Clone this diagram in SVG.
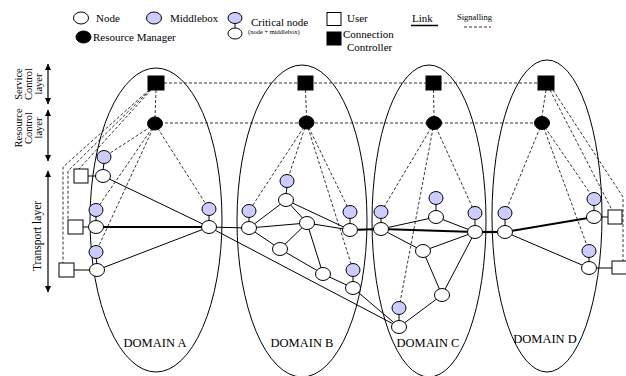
<svg xmlns="http://www.w3.org/2000/svg" width="626" height="376" viewBox="0 0 626 376" font-family="Liberation Serif, Times New Roman, serif">
<style>
  text { font-family: 'Liberation Serif', 'Times New Roman', Times, serif; fill: #000; }
  .dom { fill: none; stroke: #000; stroke-width: 1; }
  .lk { stroke: #000; stroke-width: 1; fill: none; }
  .th { stroke: #000; stroke-width: 2.2; fill: none; }
  .sg { stroke: #000; stroke-width: 0.8; stroke-dasharray: 3 2; fill: none; }
  .nd { fill: #fff; stroke: #000; stroke-width: 1; }
  .mb { fill: #ccccff; stroke: #000; stroke-width: 1; }
  .rm { fill: #000; stroke: #000; stroke-width: 1; }
  .cc { fill: #000; stroke: #000; stroke-width: 1; }
  .us { fill: #fff; stroke: #000; stroke-width: 1; }
  .ar { stroke: #000; stroke-width: 1.2; fill: none; }
</style>
<defs>
  <marker id="ah" markerUnits="userSpaceOnUse" markerWidth="7" markerHeight="7" refX="6" refY="3.5" orient="auto-start-reverse">
    <path d="M0,0.5 L6.5,3.5 L0,6.5 z" fill="#000"/>
  </marker>
</defs>
<rect x="0" y="0" width="626" height="376" fill="#fff"/>

<!-- Legend -->
<g id="legend">
  <ellipse class="nd" cx="81" cy="18" rx="7.5" ry="6"/>
  <text x="96" y="22" font-size="11">Node</text>
  <ellipse class="mb" cx="154" cy="18" rx="7.5" ry="6"/>
  <text x="170" y="22" font-size="11">Middlebox</text>
  <ellipse class="mb" cx="235" cy="18" rx="7" ry="5.5"/>
  <line class="lk" x1="235" y1="23.5" x2="235" y2="28"/>
  <ellipse class="nd" cx="235" cy="33.5" rx="7" ry="5.5"/>
  <text x="251" y="26" font-size="11">Critical node</text>
  <text x="248" y="34" font-size="6.5">(node + middlebox)</text>
  <ellipse class="rm" cx="83.5" cy="37" rx="7.5" ry="6"/>
  <text x="93" y="41" font-size="11">Resource Manager</text>
  <rect class="us" x="327" y="12.5" width="14" height="13"/>
  <text x="347" y="22" font-size="11">User</text>
  <rect class="cc" x="327" y="32" width="14" height="13"/>
  <text x="343" y="38" font-size="11">Connection</text>
  <text x="347" y="51" font-size="11">Controller</text>
  <text x="412" y="22" font-size="11">Link</text>
  <line x1="411" y1="25.5" x2="438" y2="25.5" stroke="#000" stroke-width="1.5"/>
  <text x="457" y="20" font-size="8.5">Signalling</text>
  <line class="sg" x1="464" y1="27" x2="491" y2="27"/>
</g>

<!-- Layer labels -->
<g id="layers">
  <line class="ar" x1="48" y1="64" x2="48" y2="104" marker-start="url(#ah)" marker-end="url(#ah)"/>
  <text transform="translate(22,84) rotate(-90)" font-size="10.5" text-anchor="middle">Service</text>
  <text transform="translate(32,84) rotate(-90)" font-size="10.5" text-anchor="middle">Control</text>
  <text transform="translate(41.5,84) rotate(-90)" font-size="10.5" text-anchor="middle">layer</text>
  <line class="ar" x1="48" y1="110" x2="48" y2="161" marker-start="url(#ah)" marker-end="url(#ah)"/>
  <text transform="translate(22,128) rotate(-90)" font-size="10.5" text-anchor="middle">Resource</text>
  <text transform="translate(32,128) rotate(-90)" font-size="10.5" text-anchor="middle">Control</text>
  <text transform="translate(41.5,128) rotate(-90)" font-size="10.5" text-anchor="middle">layer</text>
  <line class="ar" x1="48" y1="171" x2="48" y2="292" marker-start="url(#ah)" marker-end="url(#ah)"/>
  <text transform="translate(41,236) rotate(-90)" font-size="11.5" text-anchor="middle">Transport layer</text>
</g>

<!-- Domains -->
<g id="domainA"><ellipse class="dom" cx="156" cy="220" rx="66" ry="152"/><text x="155" y="347" font-size="12.5" text-anchor="middle">DOMAIN A</text></g>
<g id="domainB"><ellipse class="dom" cx="302" cy="221" rx="65" ry="156"/><text x="302" y="347" font-size="12.5" text-anchor="middle">DOMAIN B</text></g>
<g id="domainC"><ellipse class="dom" cx="429" cy="221" rx="57" ry="156"/><text x="428" y="347" font-size="12.5" text-anchor="middle">DOMAIN C</text></g>
<g id="domainD"><ellipse class="dom" cx="547" cy="216" rx="55" ry="156"/><text x="545" y="343" font-size="12.5" text-anchor="middle">DOMAIN D</text></g>

<!-- Connectors -->
<g id="connectors">
  <!-- signalling -->
  <line class="sg" x1="164" y1="83" x2="538" y2="83"/>
  <line class="sg" x1="155" y1="123" x2="542" y2="123"/>
  <line class="sg" x1="156" y1="90" x2="155" y2="117"/>
  <line class="sg" x1="305.5" y1="90" x2="306.5" y2="116"/>
  <line class="sg" x1="433.5" y1="90" x2="434" y2="116"/>
  <line class="sg" x1="546" y1="90" x2="542" y2="116"/>
  <line class="sg" x1="155" y1="124" x2="104" y2="157"/>
  <line class="sg" x1="155" y1="124" x2="96" y2="210"/>
  <line class="sg" x1="155" y1="124" x2="96" y2="252"/>
  <line class="sg" x1="155" y1="124" x2="209" y2="209"/>
  <line class="sg" x1="306.5" y1="123" x2="249" y2="211"/>
  <line class="sg" x1="306.5" y1="123" x2="287" y2="181"/>
  <line class="sg" x1="306.5" y1="123" x2="350" y2="212"/>
  <line class="sg" x1="306.5" y1="123" x2="353" y2="270"/>
  <line class="sg" x1="434" y1="123" x2="381" y2="212"/>
  <line class="sg" x1="434" y1="123" x2="475" y2="213"/>
  <line class="sg" x1="434" y1="123" x2="399" y2="308"/>
  <line class="sg" x1="542" y1="123" x2="505" y2="213"/>
  <line class="sg" x1="542" y1="123" x2="594" y2="199"/>
  <line class="sg" x1="542" y1="123" x2="589" y2="251"/>
  <polyline class="sg" points="149,90 63,167 63,263"/>
  <polyline class="sg" points="150,90 68,171 68,220"/>
  <line class="sg" x1="151" y1="90" x2="79" y2="169"/>
  <line class="sg" x1="550" y1="90" x2="612" y2="210"/>
  <polyline class="sg" points="553,90 623,197 623,261"/>
  <!-- links -->
  <line class="lk" x1="88" y1="176" x2="95.5" y2="176"/>
  <line class="lk" x1="83" y1="227" x2="88.5" y2="227"/>
  <line class="lk" x1="74" y1="270" x2="89.5" y2="270"/>
  <line class="lk" x1="103" y1="176" x2="209" y2="227"/>
  <line class="th" x1="96" y1="227" x2="209" y2="227"/>
  <line class="lk" x1="97" y1="270" x2="209" y2="227"/>
  <line class="lk" x1="209" y1="227" x2="249" y2="228"/>
  <line class="lk" x1="209" y1="227" x2="399" y2="327"/>
  <line class="lk" x1="249" y1="228" x2="286" y2="200"/>
  <line class="lk" x1="249" y1="228" x2="307" y2="223"/>
  <line class="lk" x1="249" y1="228" x2="280" y2="249"/>
  <line class="lk" x1="286" y1="200" x2="307" y2="223"/>
  <line class="lk" x1="286" y1="200" x2="350" y2="230"/>
  <line class="lk" x1="307" y1="223" x2="350" y2="230"/>
  <line class="lk" x1="307" y1="223" x2="280" y2="249"/>
  <line class="lk" x1="307" y1="223" x2="323" y2="274"/>
  <line class="lk" x1="280" y1="249" x2="323" y2="274"/>
  <line class="lk" x1="323" y1="274" x2="353" y2="288"/>
  <line class="lk" x1="353" y1="288" x2="399" y2="327"/>
  <line class="th" x1="350" y1="230" x2="381" y2="229"/>
  <line class="lk" x1="381" y1="229" x2="436" y2="217"/>
  <line class="lk" x1="436" y1="217" x2="475" y2="232"/>
  <line class="th" x1="381" y1="229" x2="475" y2="232"/>
  <line class="lk" x1="381" y1="229" x2="423" y2="251"/>
  <line class="lk" x1="423" y1="251" x2="475" y2="232"/>
  <line class="lk" x1="423" y1="251" x2="442" y2="295"/>
  <line class="lk" x1="442" y1="295" x2="475" y2="232"/>
  <line class="lk" x1="442" y1="295" x2="399" y2="327"/>
  <line class="th" x1="475" y1="232" x2="505" y2="232"/>
  <line class="th" x1="505" y1="232" x2="594" y2="217"/>
  <line class="lk" x1="505" y1="232" x2="589" y2="268"/>
  <line class="lk" x1="601.5" y1="217" x2="608" y2="217"/>
  <line class="lk" x1="596.5" y1="268" x2="612" y2="268"/>
</g>

<!-- Controllers and managers -->
<g id="ccA"><rect class="cc" x="148" y="76" width="16" height="14"/></g>
<g id="ccB"><rect class="cc" x="298" y="76" width="15" height="14"/></g>
<g id="ccC"><rect class="cc" x="426" y="76" width="15" height="14"/></g>
<g id="ccD"><rect class="cc" x="538" y="76" width="16" height="14"/></g>
<g id="rmA"><ellipse class="rm" cx="155" cy="123.5" rx="7.5" ry="6.5"/></g>
<g id="rmB"><ellipse class="rm" cx="306.5" cy="122.5" rx="7.5" ry="6.5"/></g>
<g id="rmC"><ellipse class="rm" cx="434" cy="123" rx="7.5" ry="6.5"/></g>
<g id="rmD"><ellipse class="rm" cx="542" cy="123" rx="7.5" ry="6.5"/></g>

<!-- Users -->
<g id="userA1"><rect class="us" x="74" y="169" width="14" height="14"/></g>
<g id="userA2"><rect class="us" x="68" y="220" width="15" height="14"/></g>
<g id="userA3"><rect class="us" x="59" y="263" width="15" height="14"/></g>
<g id="userD1"><rect class="us" x="608" y="210" width="14" height="14"/></g>
<g id="userD2"><rect class="us" x="612" y="261" width="15" height="13"/></g>

<!-- Domain A nodes -->
<g id="A1"><line class="lk" x1="104" y1="163" x2="103" y2="170"/><ellipse class="mb" cx="104" cy="157" rx="7" ry="6.5"/><ellipse class="nd" cx="103" cy="176" rx="7.5" ry="6.5"/></g>
<g id="A2"><line class="lk" x1="96" y1="216" x2="96" y2="221"/><ellipse class="mb" cx="96" cy="210" rx="7" ry="6.5"/><ellipse class="nd" cx="96" cy="227" rx="7.5" ry="6.5"/></g>
<g id="A3"><line class="lk" x1="96" y1="258" x2="97" y2="264"/><ellipse class="mb" cx="96" cy="252" rx="7" ry="6.5"/><ellipse class="nd" cx="97" cy="270" rx="7.5" ry="6.5"/></g>
<g id="A4"><line class="lk" x1="209" y1="215" x2="209" y2="221"/><ellipse class="mb" cx="209" cy="209" rx="7" ry="6.5"/><ellipse class="nd" cx="209" cy="227" rx="7.5" ry="6.5"/></g>

<!-- Domain B nodes -->
<g id="B1"><line class="lk" x1="249" y1="217" x2="249" y2="222"/><ellipse class="mb" cx="249" cy="211" rx="7" ry="6.5"/><ellipse class="nd" cx="249" cy="228" rx="7.5" ry="6.5"/></g>
<g id="B2"><line class="lk" x1="287" y1="187" x2="286" y2="194"/><ellipse class="mb" cx="287" cy="181" rx="7" ry="6.5"/><ellipse class="nd" cx="286" cy="200" rx="7.5" ry="6.5"/></g>
<g id="B3"><ellipse class="nd" cx="307" cy="223" rx="7.5" ry="6.5"/></g>
<g id="B4"><line class="lk" x1="350" y1="218" x2="350" y2="224"/><ellipse class="mb" cx="350" cy="212" rx="7" ry="6.5"/><ellipse class="nd" cx="350" cy="230" rx="7.5" ry="6.5"/></g>
<g id="B5"><ellipse class="nd" cx="280" cy="249" rx="7.5" ry="6.5"/></g>
<g id="B6"><ellipse class="nd" cx="323" cy="274" rx="7.5" ry="6.5"/></g>
<g id="B7"><line class="lk" x1="353" y1="276" x2="353" y2="282"/><ellipse class="mb" cx="353" cy="270" rx="7" ry="6.5"/><ellipse class="nd" cx="353" cy="288" rx="7.5" ry="6.5"/></g>

<!-- Domain C nodes -->
<g id="C1"><line class="lk" x1="381" y1="218" x2="381" y2="223"/><ellipse class="mb" cx="381" cy="212" rx="7" ry="6.5"/><ellipse class="nd" cx="381" cy="229" rx="7.5" ry="6.5"/></g>
<g id="C2"><line class="lk" x1="436" y1="204" x2="436" y2="211"/><ellipse class="mb" cx="436" cy="198" rx="7" ry="6.5"/><ellipse class="nd" cx="436" cy="217" rx="7.5" ry="6.5"/></g>
<g id="C3"><line class="lk" x1="475" y1="219" x2="475" y2="226"/><ellipse class="mb" cx="475" cy="213" rx="7" ry="6.5"/><ellipse class="nd" cx="475" cy="232" rx="7.5" ry="6.5"/></g>
<g id="C4"><ellipse class="nd" cx="423" cy="251" rx="7.5" ry="6.5"/></g>
<g id="C5"><ellipse class="nd" cx="442" cy="295" rx="7.5" ry="6.5"/></g>
<g id="C6"><line class="lk" x1="399" y1="314" x2="399" y2="321"/><ellipse class="mb" cx="399" cy="308" rx="7" ry="6.5"/><ellipse class="nd" cx="399" cy="327" rx="7.5" ry="6.5"/></g>

<!-- Domain D nodes -->
<g id="D1"><line class="lk" x1="505" y1="219" x2="505" y2="226"/><ellipse class="mb" cx="505" cy="213" rx="7" ry="6.5"/><ellipse class="nd" cx="505" cy="232" rx="7.5" ry="6.5"/></g>
<g id="D2"><line class="lk" x1="594" y1="205" x2="594" y2="211"/><ellipse class="mb" cx="594" cy="199" rx="7" ry="6.5"/><ellipse class="nd" cx="594" cy="217" rx="7.5" ry="6.5"/></g>
<g id="D3"><line class="lk" x1="589" y1="257" x2="589" y2="262"/><ellipse class="mb" cx="589" cy="251" rx="7" ry="6.5"/><ellipse class="nd" cx="589" cy="268" rx="7.5" ry="6.5"/></g>
</svg>
